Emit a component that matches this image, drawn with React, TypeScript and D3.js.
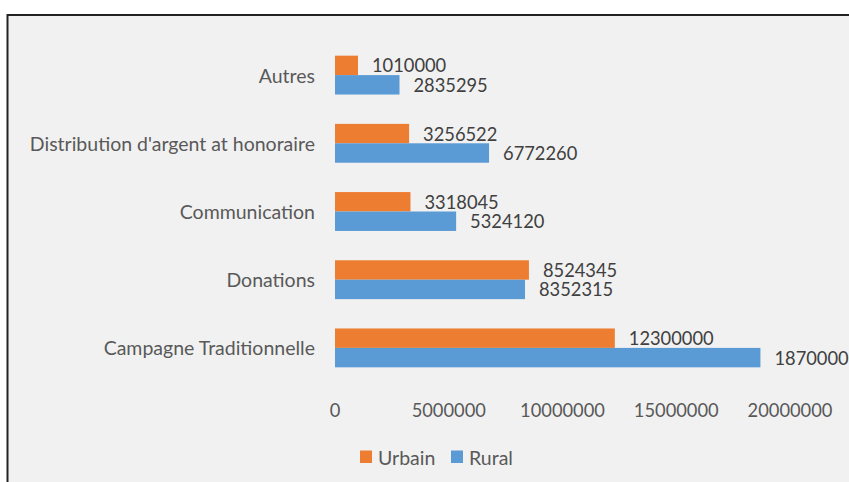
import React from "react";
import * as d3 from "d3";

const categories = [
  "Autres",
  "Distribution d'argent at honoraire",
  "Communication",
  "Donations",
  "Campagne Traditionnelle",
];
const urbain = [1010000, 3256522, 3318045, 8524345, 12300000];
const rural = [2835295, 6772260, 5324120, 8352315, 18700000];
const xTicks = [0, 5000000, 10000000, 15000000, 20000000];
const series = [
  { name: "Urbain", values: urbain, color: "#ED7D31" },
  { name: "Rural", values: rural, color: "#5B9BD5" },
];

const W = 849;
const H = 482;
const font = "Lato, 'Open Sans', sans-serif";
const textColor = "#595959";
const labelSize = 19.5;
const numberSize = 18.3;

const App = () => {
  const x = d3.scaleLinear().domain([0, 20000000]).range([335, 790]);
  const y = d3.scaleBand().domain(categories).range([41, 382]).paddingInner(0.43).paddingOuter(0.215);
  const inner = d3
    .scaleBand()
    .domain(series.map((s) => s.name))
    .range([0, y.bandwidth()]);

  return (
    <div style={{ position: "absolute", left: 0, top: 0 }}>
      <svg width={W} height={H} style={{ display: "block", fontFamily: font }}>
        <rect x={0} y={0} width={W} height={H} fill="#ffffff" />
        <rect x={7.5} y={15} width={W + 10} height={H} fill="#f1f1f1" stroke="#222" strokeWidth={2} />

        {categories.map((c) => (
          <text
            key={c}
            x={315}
            y={y(c)! + y.bandwidth() / 2}
            textAnchor="end"
            dominantBaseline="central"
            fontSize={labelSize}
            fill={textColor}
          >
            {c}
          </text>
        ))}

        {series.map((s) =>
          categories.map((c, i) => {
            const y0 = y(c)! + inner(s.name)!;
            return (
              <g key={s.name + c}>
                <rect
                  x={x(0)}
                  y={y0}
                  width={x(s.values[i]) - x(0)}
                  height={inner.bandwidth()}
                  fill={s.color}
                />
                <text
                  x={x(s.values[i]) + 14}
                  y={y0 + inner.bandwidth() / 2}
                  dominantBaseline="central"
                  fontSize={numberSize}
                  fill="#404040"
                >
                  {s.values[i]}
                </text>
              </g>
            );
          })
        )}

        {xTicks.map((t) => (
          <text
            key={t}
            x={x(t)}
            y={410}
            textAnchor="middle"
            dominantBaseline="central"
            fontSize={numberSize}
            fill={textColor}
          >
            {t}
          </text>
        ))}

        {series.map((s, i) => {
          const lx = 360 + i * 91;
          return (
            <g key={s.name}>
              <rect x={lx} y={450.5} width={12} height={12.5} fill={s.color} />
              <text x={lx + 18} y={457} dominantBaseline="central" fontSize={labelSize} fill={textColor}>
                {s.name}
              </text>
            </g>
          );
        })}
      </svg>
    </div>
  );
};

export default App;
